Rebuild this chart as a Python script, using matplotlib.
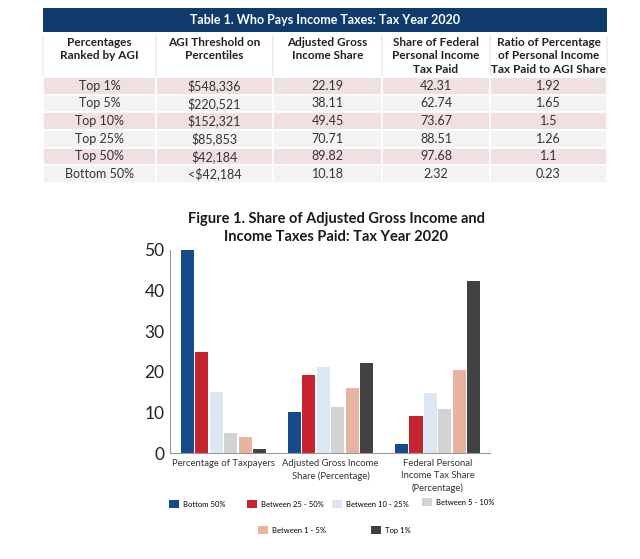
import matplotlib.pyplot as plt
from matplotlib.patches import Rectangle
import numpy as np

plt.rcParams['font.family'] = ['Lato', 'DejaVu Sans']

# table data
table_title = "Table 1. Who Pays Income Taxes: Tax Year 2020"
headers = ["Percentages\nRanked by AGI\n", "AGI Threshold on\nPercentiles\n", "Adjusted Gross\nIncome Share\n",
           "Share of Federal\nPersonal Income\nTax Paid", "Ratio of Percentage\nof Personal Income\nTax Paid to AGI Share"]
groups_tbl = ["Top 1%", "Top 5%", "Top 10%", "Top 25%", "Top 50%", "Bottom 50%"]
thresholds = ["$548,336", "$220,521", "$152,321", "$85,853", "$42,184", "<$42,184"]
agi_share = ["22.19", "38.11", "49.45", "70.71", "89.82", "10.18"]
tax_share = ["42.31", "62.74", "73.67", "88.51", "97.68", "2.32"]
ratio = ["1.92", "1.65", "1.5", "1.26", "1.1", "0.23"]

# chart data
categories = ["Percentage of Taxpayers", "Adjusted Gross Income\nShare (Percentage)",
              "Federal Personal\nIncome Tax Share\n(Percentage)"]
series_names = ["Bottom 50%", "Between 25 - 50%", "Between 10 - 25%", "Between 5 - 10%", "Between 1 - 5%", "Top 1%"]
bottom50 = [50, 10.18, 2.32]
b25_50 = [25, 19.11, 9.17]
b10_25 = [15, 21.26, 14.84]
b5_10 = [5, 11.34, 10.93]
b1_5 = [4, 15.92, 20.43]
top1 = [1, 22.19, 42.31]
colors = ["#174a8b", "#c62330", "#dde7f3", "#d3d3d3", "#e9b3a1", "#424242"]

W, H = 640, 559
fig = plt.figure(figsize=(W / 100, H / 100), dpi=100)

# table title band
fig.patches.append(Rectangle((43 / W, 1 - 32 / H), 564 / W, 24 / H, transform=fig.transFigure,
                             facecolor="#0f3a6c", edgecolor="none"))
fig.text(325 / W, 1 - 20 / H, table_title, color="white", fontsize=9, fontweight="bold",
         ha="center", va="center")

tax = fig.add_axes([43 / W, 1 - 183 / H, 564 / W, 148 / H])
tax.axis("off")
rows = list(zip(groups_tbl, thresholds, agi_share, tax_share, ratio))
col_w = [113, 117, 109, 108, 117]
tbl = tax.table(cellText=rows, colLabels=headers, cellLoc="center", bbox=[0, 0, 1, 1])
tbl.auto_set_font_size(False)
for (r, c), cell in tbl.get_celld().items():
    cell.set_width(col_w[c])
    cell.set_linewidth(1.2)
    txt = cell.get_text()
    if r == 0:
        cell.set_height(42)
        cell.set_facecolor("white")
        cell.set_edgecolor("#eeeeee")
        cell.visible_edges = "LR"
        txt.set_fontweight("bold")
        txt.set_fontsize(8.5)
        txt.set_color("#222222")
        txt.set_linespacing(1.3)
    else:
        cell.set_height(17.7)
        cell.set_edgecolor("white")
        cell.set_facecolor("#f1e0e1" if r % 2 == 1 else "#f3f3f5")
        txt.set_fontsize(9)
        txt.set_color("#333333")

# bar chart
ax = fig.add_axes([170 / W, 1 - 453 / H, 320 / W, 203 / H])
x = np.arange(len(categories))
all_series = [bottom50, b25_50, b10_25, b5_10, b1_5, top1]
handles = []
for i, (vals, name, col) in enumerate(zip(all_series, series_names, colors)):
    h = ax.bar(x + (i - 2.5) * 0.135, vals, width=0.124, color=col, label=name)
    handles.append(h)
ax.set_xlim(-0.5, 2.49)
ax.set_ylim(0, 50)
ax.set_yticks([0, 10, 20, 30, 40, 50])
ax.tick_params(axis="y", length=0, labelsize=12.5, labelcolor="#222222", pad=4)
ax.set_xticks(x)
ax.set_xticklabels(categories, fontsize=6.8, color="#333333", linespacing=1.5)
ax.tick_params(axis="x", length=0, pad=4)
for s in ["top", "right"]:
    ax.spines[s].set_visible(False)
for s in ["left", "bottom"]:
    ax.spines[s].set_color("#999999")
    ax.spines[s].set_linewidth(0.8)
fig.text(336 / W, 1 - 228 / H, "Figure 1. Share of Adjusted Gross Income and\nIncome Taxes Paid: Tax Year 2020",
         ha="center", va="center", fontsize=10.5, fontweight="bold", color="#1a1a1a", linespacing=1.3)

# legend items placed one by one
legend_pos = [(169, 504), (247, 504), (332, 504), (422, 502), (258, 530), (371, 530)]
for h, name, (lx, ly) in zip(handles, series_names, legend_pos):
    fig.legend([h], [name], loc="center left", bbox_to_anchor=(lx / W, 1 - ly / H),
               frameon=False, fontsize=5.5, handlelength=1.3, handleheight=1.3,
               handletextpad=0.5, borderpad=0, borderaxespad=0)

fig.savefig("out.png", dpi=100, facecolor="white")
